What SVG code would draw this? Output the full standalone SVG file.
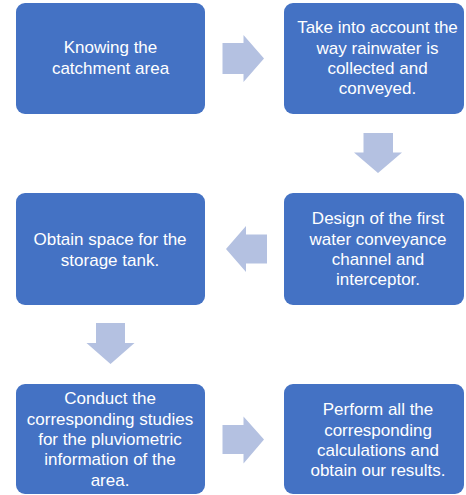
<svg xmlns="http://www.w3.org/2000/svg" width="466" height="495" viewBox="0 0 466 495">
<style>
.box{fill:#4472C4;}
.arr{fill:#B4C1E1;}
text{font-family:"Liberation Sans",Arial,sans-serif;font-size:17px;fill:#FFFFFF;text-anchor:middle;}
</style>
<rect width="466" height="495" fill="#FFFFFF"/>
<g id="connectors">
<polygon class="arr" points="222.5,43 243.5,43 243.5,35 264,58.5 243.5,82 243.5,74 222.5,74"/>
<polygon class="arr" points="363.5,133 393,133 393,152.5 402,152.5 378,173 354,152.5 363.5,152.5"/>
<polygon class="arr" points="267,234.5 246,234.5 246,226 226,249 246,272 246,263.5 267,263.5"/>
<polygon class="arr" points="96,323 125,323 125,343 134.5,343 110.5,364 86.5,343 96,343"/>
<polygon class="arr" points="222.5,425 243.5,425 243.5,416.5 264,439.5 243.5,463.5 243.5,454 222.5,454"/>
</g>
<g id="node1">
<rect class="box" x="16" y="3" width="189" height="111" rx="9"/>
<text x="110.5" y="53">Knowing the</text>
<text x="110.5" y="74">catchment area</text>
</g>
<g id="node2">
<rect class="box" x="284" y="3" width="180" height="111" rx="9"/>
<text x="377.5" y="33">Take into account the</text>
<text x="377.5" y="53.5">way rainwater is</text>
<text x="377.5" y="74">collected and</text>
<text x="377.5" y="94">conveyed.</text>
</g>
<g id="node3">
<rect class="box" x="16" y="193" width="189" height="112" rx="9"/>
<text x="110" y="245">Obtain space for the</text>
<text x="110" y="266">storage tank.</text>
</g>
<g id="node4">
<rect class="box" x="284" y="193" width="180" height="112" rx="9"/>
<text x="378" y="224">Design of the first</text>
<text x="378" y="244.5">water conveyance</text>
<text x="378" y="264.5">channel and</text>
<text x="378" y="285">interceptor.</text>
</g>
<g id="node5">
<rect class="box" x="16" y="384" width="189" height="110" rx="9"/>
<text x="110" y="404">Conduct the</text>
<text x="110" y="424.5">corresponding studies</text>
<text x="110" y="445">for the pluviometric</text>
<text x="110" y="465">information of the</text>
<text x="110" y="485.5">area.</text>
</g>
<g id="node6">
<rect class="box" x="284" y="384" width="180" height="110" rx="9"/>
<text x="378" y="415">Perform all the</text>
<text x="378" y="435.5">corresponding</text>
<text x="378" y="455.5">calculations and</text>
<text x="378" y="476">obtain our results.</text>
</g>
</svg>
